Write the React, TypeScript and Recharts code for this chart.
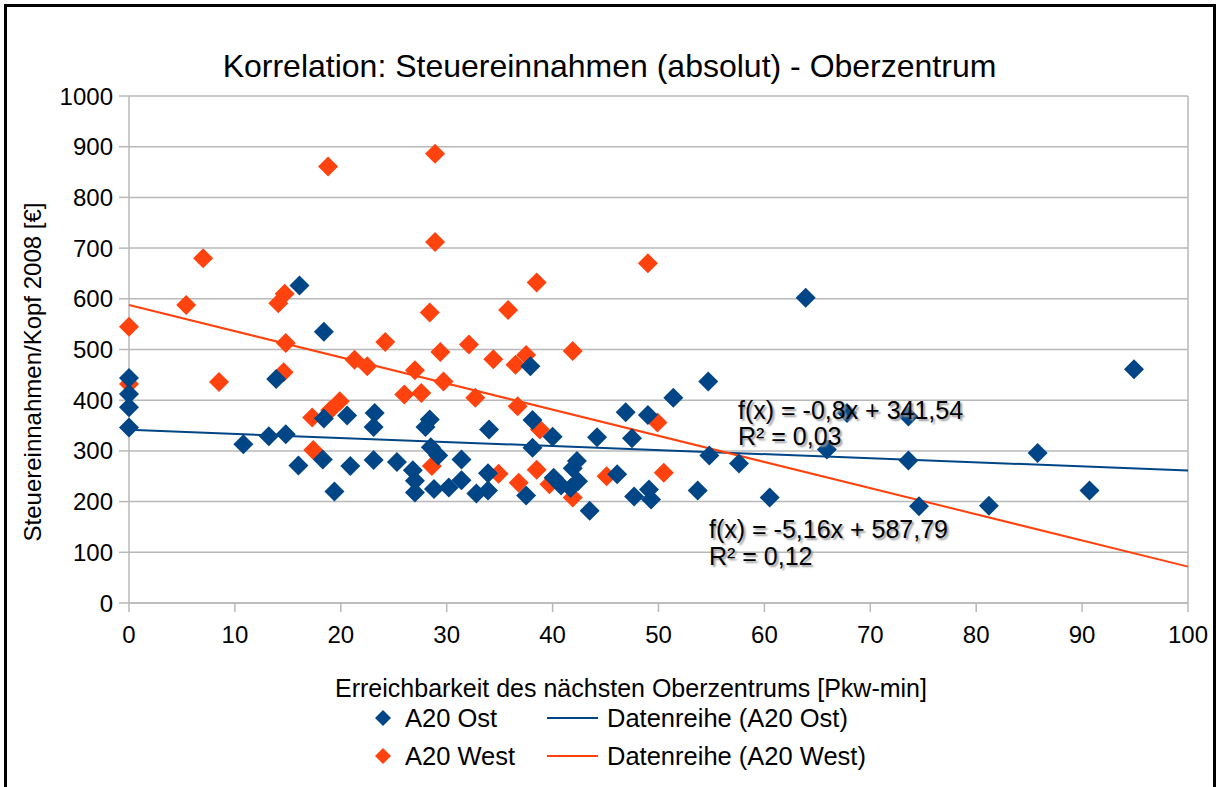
import { ScatterChart, Scatter, XAxis, YAxis, CartesianGrid, ReferenceLine, Legend } from 'recharts';

const BLUE = '#004586';
const RED = '#ff420e';
const GRID = '#b8b8b8';
const FONT = '"Liberation Sans", Arial, sans-serif';

const xTicks = [0, 10, 20, 30, 40, 50, 60, 70, 80, 90, 100];
const yTicks = [0, 100, 200, 300, 400, 500, 600, 700, 800, 900, 1000];

// A20 Ost (blue)
const ostX = [0, 0, 0, 0, 10.8, 13.2, 13.9, 14.8, 16.1, 16.0, 18.4, 18.4, 18.3, 19.4, 20.6, 20.9, 23.2, 23.1, 23.1, 25.3, 26.8, 27.0, 27.0, 28.0, 28.4, 28.5, 29.2, 28.8, 30.2, 31.4, 31.4, 32.8, 33.9, 33.9, 34.0, 37.5, 37.9, 38.1, 38.1, 40.0, 40.1, 40.8, 41.7, 42.4, 42.3, 41.9, 43.5, 44.2, 46.1, 46.9, 47.5, 47.7, 49.0, 49.1, 49.3, 51.4, 53.7, 54.7, 54.8, 57.6, 60.5, 63.9, 65.9, 67.8, 73.6, 73.6, 74.6, 81.2, 85.8, 90.7, 94.9];
const ostY = [444, 412, 386, 346, 313, 329, 442, 333, 626, 271, 535, 364, 283, 220, 370, 270, 375, 347, 282, 278, 262, 241, 218, 347, 362, 307, 291, 225, 228, 283, 242, 216, 222, 256, 342, 212, 467, 361, 306, 328, 247, 232, 227, 240, 280, 266, 182, 327, 254, 376, 325, 210, 371, 224, 204, 405, 222, 437, 291, 275, 208, 602, 303, 375, 368, 281, 191, 192, 296, 222, 461];

// A20 West (red)
const westX = [0, 0, 5.4, 7.0, 8.5, 14.1, 14.7, 14.8, 14.6, 17.3, 17.4, 18.8, 19.9, 19.0, 21.3, 22.5, 24.2, 26.0, 27.0, 27.6, 28.4, 28.6, 28.9, 28.9, 29.4, 29.7, 32.1, 32.7, 34.4, 34.9, 35.8, 36.5, 37.5, 36.7, 36.8, 38.5, 38.5, 38.8, 39.7, 41.9, 41.9, 45.1, 49.0, 49.9, 50.5];
const westY = [545, 432, 588, 680, 436, 591, 610, 513, 455, 366, 302, 861, 398, 380, 480, 467, 515, 411, 459, 414, 573, 270, 886, 712, 495, 437, 510, 405, 481, 255, 578, 470, 489, 388, 237, 632, 263, 342, 234, 497, 208, 250, 670, 356, 257];

// trend lines as printed on the chart
const ostTrend = { slope: -0.8, intercept: 341.54, eq: 'f(x) = -0,8x + 341,54', r2: 'R² = 0,03' };
const westTrend = { slope: -5.16, intercept: 587.79, eq: 'f(x) = -5,16x + 587,79', r2: 'R² = 0,12' };
const trendX = [0, 100];

const legendRows = [
  { color: BLUE, name: 'A20 Ost', line: 'Datenreihe (A20 Ost)' },
  { color: RED, name: 'A20 West', line: 'Datenreihe (A20 West)' },
];

const toPoints = (xs: number[], ys: number[]) => xs.map((x, i) => ({ x, y: ys[i] }));
const trendPoints = (t: { slope: number; intercept: number }) =>
  trendX.map((x) => ({ x, y: t.slope * x + t.intercept }));

const ostData = toPoints(ostX, ostY);
const westData = toPoints(westX, westY);

const diamond = (color: string) => (props: any) => {
  const { cx, cy } = props;
  const r = 10;
  return <path d={`M${cx},${cy - r}L${cx + r},${cy}L${cx},${cy + r}L${cx - r},${cy}Z`} fill={color} />;
};

const LegendBox = () => (
  <div style={{ position: 'relative', width: 520, height: 70, fontFamily: FONT, fontSize: 25.5 }}>
    {legendRows.map((row, i) => (
      <div key={row.name} style={{ position: 'absolute', left: 0, top: i * 38, height: 30, width: 520 }}>
        <svg width={18} height={18} style={{ position: 'absolute', left: 4, top: 6 }}>
          <path d="M9,1L17,9L9,17L1,9Z" fill={row.color} />
        </svg>
        <span style={{ position: 'absolute', left: 35, top: 0, lineHeight: '30px', whiteSpace: 'nowrap' }}>{row.name}</span>
        <div style={{ position: 'absolute', left: 177, top: 14, width: 51, height: 2, background: row.color }} />
        <span style={{ position: 'absolute', left: 237, top: 0, lineHeight: '30px', whiteSpace: 'nowrap' }}>{row.line}</span>
      </div>
    ))}
  </div>
);

const annot = { position: 'absolute' as const, fontSize: 25, lineHeight: '25px', whiteSpace: 'nowrap' as const, textShadow: '2px 2px 2px #9a9a9a' };

export default function App() {
  return (
    <div style={{ position: 'absolute', left: 0, top: 0, width: 1219, height: 787, overflow: 'hidden', background: '#fff', fontFamily: FONT, color: '#000' }}>
      <div style={{ position: 'absolute', left: 4, top: 4, width: 1212, height: 800, boxSizing: 'border-box', borderTop: '3px solid #000', borderLeft: '3px solid #000', borderRight: '3px solid #000' }} />
      <div style={{ position: 'absolute', left: 0, top: 0 }}>
        <ScatterChart width={1219} height={787} margin={{ top: 96, right: 31, bottom: 124, left: 0 }}>
          <CartesianGrid vertical={false} stroke={GRID} strokeWidth={1.5} />
          <XAxis
            type="number"
            dataKey="x"
            domain={[0, 100]}
            ticks={xTicks}
            height={60}
            stroke={GRID}
            strokeWidth={1.5}
            tickSize={9}
            tickMargin={14}
            tick={{ fill: '#000', fontSize: 24, fontFamily: FONT }}
          />
          <YAxis
            type="number"
            dataKey="y"
            domain={[0, 1000]}
            ticks={yTicks}
            width={129}
            stroke={GRID}
            strokeWidth={1.5}
            tickSize={10}
            tickMargin={6}
            tick={{ fill: '#000', fontSize: 24, fontFamily: FONT }}
          />
          <ReferenceLine x={100} stroke={GRID} strokeWidth={1.5} />
          <Scatter data={trendPoints(ostTrend)} line={{ stroke: BLUE, strokeWidth: 2 }} shape={() => <g />} isAnimationActive={false} legendType="none" />
          <Scatter data={trendPoints(westTrend)} line={{ stroke: RED, strokeWidth: 2 }} shape={() => <g />} isAnimationActive={false} legendType="none" />
          <Scatter name="A20 West" data={westData} shape={diamond(RED)} fill={RED} isAnimationActive={false} />
          <Scatter name="A20 Ost" data={ostData} shape={diamond(BLUE)} fill={BLUE} isAnimationActive={false} />
          <Legend verticalAlign="middle" layout="horizontal" wrapperStyle={{ left: 370, top: 703, width: 520, height: 70 }} content={() => <LegendBox />} />
        </ScatterChart>
      </div>
      <div style={{ position: 'absolute', left: 0, top: 50, width: 1219, textAlign: 'center', fontSize: 32, lineHeight: '32px', whiteSpace: 'nowrap' }}>
        Korrelation: Steuereinnahmen (absolut) - Oberzentrum
      </div>
      <div style={{ position: 'absolute', left: 331, top: 676, width: 600, textAlign: 'center', fontSize: 25, lineHeight: '25px', whiteSpace: 'nowrap' }}>
        Erreichbarkeit des nächsten Oberzentrums [Pkw-min]
      </div>
      <div style={{ position: 'absolute', left: -167, top: 360, width: 400, height: 24, textAlign: 'center', fontSize: 24, lineHeight: '24px', whiteSpace: 'nowrap', transform: 'rotate(-90deg)' }}>
        Steuereinnahmen/Kopf 2008 [€]
      </div>
      <div style={{ ...annot, left: 738, top: 398 }}>{ostTrend.eq}</div>
      <div style={{ ...annot, left: 738, top: 424 }}>{ostTrend.r2}</div>
      <div style={{ ...annot, left: 709, top: 517 }}>{westTrend.eq}</div>
      <div style={{ ...annot, left: 709, top: 544 }}>{westTrend.r2}</div>
    </div>
  );
}
